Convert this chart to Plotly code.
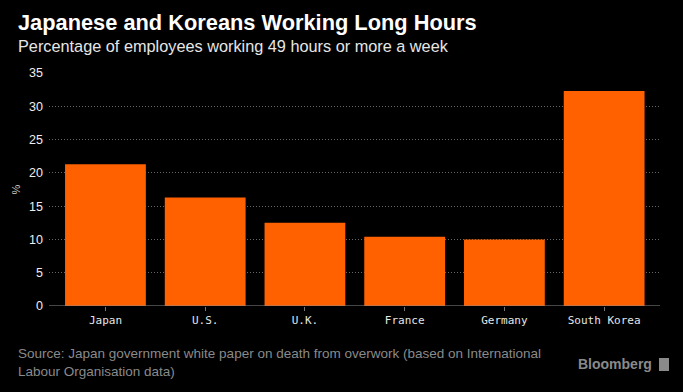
import plotly.graph_objects as go

countries = ["Japan", "U.S.", "U.K.", "France", "Germany", "South Korea"]
pct_long_hours = [21.3, 16.3, 12.5, 10.4, 10.0, 32.3]
y_ticks = [0, 5, 10, 15, 20, 25, 30, 35]

title = "Japanese and Koreans Working Long Hours"
subtitle = "Percentage of employees working 49 hours or more a week"
source = ("Source: Japan government white paper on death from overwork (based on International"
          "<br>Labour Organisation data)")

W, H = 683, 392
ml, mr, mt, mb = 49, 23, 73, 86
pw, ph = W - ml - mr, H - mt - mb

def px(x):
    return (x - ml) / pw

def py(y):
    return (H - mb - y) / ph

fig = go.Figure(go.Bar(
    x=countries, y=pct_long_hours,
    marker=dict(color="#ff6000", line=dict(width=0)),
    width=0.81,
    hoverinfo="x+y",
))

fig.update_layout(
    width=W, height=H,
    paper_bgcolor="#000000", plot_bgcolor="#000000",
    margin=dict(l=ml, r=mr, t=mt, b=mb),
    showlegend=False,
    font=dict(family="Liberation Sans", color="#e0e0e0"),
    xaxis=dict(
        range=[-0.566, 5.56],
        showgrid=False, zeroline=False,
        showline=False,
        ticks="outside", ticklen=4, tickcolor="#777777",
        tickfont=dict(family="DejaVu Sans Mono", size=11, color="#e6e6e6"),
    ),
    yaxis=dict(
        range=[0, 35], tickvals=y_ticks,
        showgrid=True, gridcolor="#666666", griddash="1px,2px", gridwidth=1,
        zeroline=False,
        tickfont=dict(family="Liberation Sans", size=12.5, color="#eeeeee"),
        ticks="", ticklabelstandoff=5,
        title=dict(text="%", font=dict(size=11, color="#cccccc"), standoff=6),
    ),
    annotations=[
        dict(text="<b>" + title + "</b>", x=px(16), y=py(22), xref="paper", yref="paper",
             showarrow=False, xanchor="left", yanchor="middle",
             font=dict(family="Liberation Sans", size=21.8, color="#ffffff")),
        dict(text=subtitle, x=px(16), y=py(46), xref="paper", yref="paper",
             showarrow=False, xanchor="left", yanchor="middle",
             font=dict(family="Liberation Sans", size=16.3, color="#e6e6e6")),
        dict(text=source, x=px(16), y=py(362), xref="paper", yref="paper",
             showarrow=False, xanchor="left", yanchor="middle", align="left",
             font=dict(family="Liberation Sans", size=13.5, color="#8a8a8a")),
        dict(text="<b>Bloomberg</b>", x=px(654), y=py(364), xref="paper", yref="paper",
             showarrow=False, xanchor="right", yanchor="middle",
             font=dict(family="Liberation Sans", size=14, color="#8a8a8a")),
    ],
)

# axis baseline across the plot width
fig.add_shape(type="line", xref="paper", yref="y", x0=0, x1=1, y0=0, y1=0,
              line=dict(color="#8a8a8a", width=1))
# Bloomberg logo box
fig.add_shape(type="rect", xref="paper", yref="paper",
              x0=px(659), x1=px(669), y0=py(371), y1=py(358),
              fillcolor="#8a8a8a", line=dict(width=0))

fig.write_html("out.html", config={"displayModeBar": False},
               post_script="document.body.style.margin='0';")
